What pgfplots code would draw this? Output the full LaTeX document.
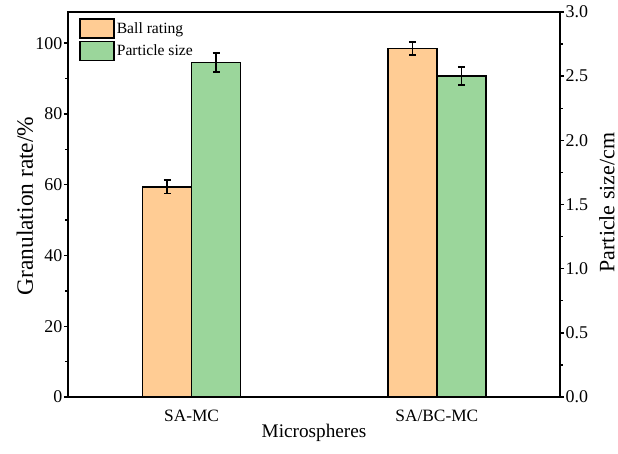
\documentclass[border=0pt]{standalone}
\usepackage{pgfplots}
\pgfplotsset{compat=1.18}
\usepackage{fontspec}
\setmainfont{Liberation Serif}
\definecolor{orangeC}{RGB}{255,204,148}
\definecolor{greenC}{RGB}{155,214,155}
\begin{document}
\begin{tikzpicture}
\pgfplotsset{
  common/.style={
    scale only axis, width=492bp, height=385bp,
    xmin=-0.504, xmax=1.502,
    axis line style={line width=1.6bp},
    tick style={line width=1.4bp, black},
    major tick length=4bp, minor tick length=2.5bp,
    tick align=outside,
    /pgf/number format/assume math mode=true,
    ticklabel style={font=\fontsize{18}{18}\selectfont},
  },
  barstyle/.style={ybar, bar width=0.2, bar shift=0pt, draw=black, line width=1.6bp,
    error bars/y dir=both, error bars/y explicit,
    error bars/error bar style={line width=1.6bp, black},
    error bars/error mark options={rotate=90, mark size=3.5bp, line width=1.6bp, black}},
}
\begin{axis}[common, anchor=south west, at={(0,0)},
  ymin=0, ymax=108.8,
  ytick={0,20,40,60,80,100}, minor ytick={10,30,50,70,90},
  ytick pos=left, xtick pos=bottom,
  yticklabel style={inner xsep=1.5bp},
  xtick={0,1}, xticklabels={SA-MC, SA/BC-MC},
  x tick style={draw=none},
  xticklabel style={font=\fontsize{17.4}{17.4}\selectfont, anchor=base, yshift=-20bp},
  xlabel={Microspheres},
  xlabel style={font=\fontsize{19.3}{19.3}\selectfont, at={(axis description cs:0.5,-0.106)}, anchor=base},
  ylabel={Granulation rate/\%},
  ylabel style={font=\fontsize{23.5}{23.5}\selectfont, at={(axis description cs:-0.0874,0.496)}, anchor=center},
]
\addplot[fill=orangeC, barstyle] table[x=x, y=y, y error=e] {
x y e
-0.1 59.4 1.9
0.9 98.5 1.9
};
\end{axis}
\begin{axis}[common, anchor=south west, at={(0,0)},
  ymin=0, ymax=3,
  axis y line*=right, axis x line=none,
  ytick={0,0.5,1,1.5,2,2.5,3}, minor ytick={0.25,0.75,1.25,1.75,2.25,2.75},
  yticklabel style={inner xsep=1.5bp, /pgf/number format/.cd, fixed, fixed zerofill, precision=1},
  ylabel={Particle size/cm},
  ylabel style={font=\fontsize{22}{22}\selectfont, at={(axis description cs:1.0955,0.505)}, anchor=center},
  legend style={at={(axis description cs:0.0224,0.9844)}, anchor=north west, draw=none, fill=none,
    inner sep=0pt, row sep=2bp,
    font=\fontsize{15.7}{15.7}\selectfont, cells={anchor=west}},
  legend image code/.code={\draw[#1, line width=1.6bp] (0bp,-9.5bp) rectangle (34bp,9.5bp);},
  legend cell align=left,
]
\addlegendimage{fill=orangeC, draw=black}
\addlegendentry{Ball rating}
\addplot[fill=greenC, barstyle] table[x=x, y=y, y error=e] {
x y e
0.1 2.605 0.074
1.1 2.50 0.071
};
\addlegendentry{Particle size}
\end{axis}
\pgfresetboundingbox
\path[use as bounding box] (-68bp,-57bp) rectangle (550bp,397bp);
\end{tikzpicture}
\end{document}
